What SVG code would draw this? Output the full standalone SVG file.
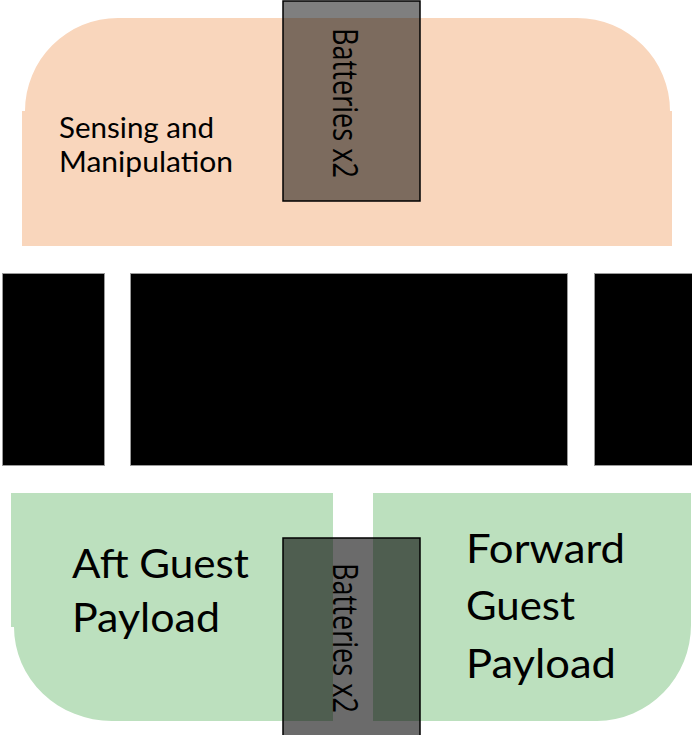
<svg xmlns="http://www.w3.org/2000/svg" width="692" height="735" viewBox="0 0 692 735">
  <style>
    .sensing { fill: #F9D6BC; }
    .payload { fill: #BCE0BE; }
    .bar { fill: #000000; stroke: #9a9a9a; stroke-width: 1; }
    .battery { fill: #000000; stroke: #000000; stroke-width: 1.5; }
    .label { font-family: "Lato", "Liberation Sans", sans-serif; fill: #000000; }
    .batt-label { font-family: "Open Sans", "Noto Sans", sans-serif; fill: #000000; font-size: 34px; }
  </style>

  <rect width="692" height="735" fill="#ffffff"/>

  <!-- Upper compartment: sensing and manipulation -->
  <g id="sensing-manipulation">
    <path class="sensing" d="M 22 246 L 22 111 L 25 111 A 93 93 0 0 1 118 18 L 577 18 A 93 93 0 0 1 670 111 L 672 111 L 672 246 Z"/>
    <text class="label" font-size="28" x="59" y="138" textLength="155" lengthAdjust="spacingAndGlyphs">Sensing and</text>
    <text class="label" font-size="28" x="59" y="172" textLength="174" lengthAdjust="spacingAndGlyphs">Manipulation</text>
  </g>

  <!-- Upper battery pack -->
  <g id="batteries-upper">
    <rect class="battery" x="283" y="1" width="137" height="200" fill-opacity="0.5"/>
    <text class="batt-label" transform="translate(333 28) rotate(90)" textLength="150" lengthAdjust="spacingAndGlyphs">Batteries x2</text>
  </g>

  <!-- Central structure bars -->
  <g id="structure">
    <rect class="bar" x="2.5" y="273.5" width="102" height="192"/>
    <rect class="bar" x="130.5" y="273.5" width="437" height="192"/>
    <rect class="bar" x="594.5" y="273.5" width="100" height="192"/>
  </g>

  <!-- Lower compartments: guest payloads -->
  <g id="aft-guest-payload">
    <path class="payload" d="M 11 493 L 333 493 L 333 721 L 112 721 A 98 94 0 0 1 14 627 L 11 627 Z"/>
    <text class="label" font-size="40" x="72" y="578" textLength="177" lengthAdjust="spacingAndGlyphs">Aft Guest</text>
    <text class="label" font-size="40" x="72" y="632" textLength="148" lengthAdjust="spacingAndGlyphs">Payload</text>
  </g>

  <g id="forward-guest-payload">
    <path class="payload" d="M 373 493 L 691 493 L 691 625 A 95 96 0 0 1 597 721 L 373 721 Z"/>
    <text class="label" font-size="41" x="466" y="563" textLength="159" lengthAdjust="spacingAndGlyphs">Forward</text>
    <text class="label" font-size="41" x="466" y="620" textLength="109" lengthAdjust="spacingAndGlyphs">Guest</text>
    <text class="label" font-size="41" x="466" y="678" textLength="150" lengthAdjust="spacingAndGlyphs">Payload</text>
  </g>

  <!-- Lower battery pack, running past the bottom edge -->
  <g id="batteries-lower">
    <rect class="battery" x="283" y="538" width="137" height="200" fill-opacity="0.58"/>
    <text class="batt-label" transform="translate(333 563) rotate(90)" textLength="150" lengthAdjust="spacingAndGlyphs">Batteries x2</text>
  </g>

  <g id="connectors"/>
</svg>
